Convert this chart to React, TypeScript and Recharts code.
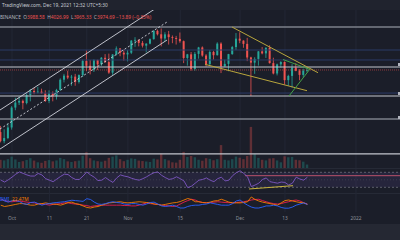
import React from 'react';
import { ComposedChart, Bar, Line, XAxis, YAxis, ReferenceLine, ReferenceArea, CartesianGrid } from 'recharts';

// day index, 0 = Oct 1 2021
const days = [
  -3, -2, -1, 0, 1, 2, 3, 4, 5, 6,
  7, 8, 9, 10, 11, 12, 13, 14, 15, 16,
  17, 18, 19, 20, 21, 22, 23, 24, 25, 26,
  27, 28, 29, 30, 31, 32, 33, 34, 35, 36,
  37, 38, 39, 40, 41, 42, 43, 44, 45, 46,
  47, 48, 49, 50, 51, 52, 53, 54, 55, 56,
  57, 58, 59, 60, 61, 62, 63, 64, 65, 66,
  67, 68, 69, 70, 71, 72, 73, 74, 75, 76,
  77, 78, 79,
];

const opens = [
  2935, 2807, 2850, 3001, 3308, 3390, 3418, 3381, 3518, 3588,
  3563, 3576, 3546, 3415, 3545, 3493, 3606, 3790, 3866, 3830,
  3847, 3748, 3877, 4155, 4057, 3972, 4170, 4085, 4218, 4131,
  3924, 4287, 4415, 4324, 4288, 4324, 4587, 4604, 4537, 4476,
  4520, 4620, 4812, 4732, 4635, 4730, 4667, 4647, 4625, 4575,
  4215, 4290, 3993, 4300, 4437, 4265, 4090, 4340, 4272, 4521,
  4045, 4095, 4295, 4445, 4632, 4587, 4515, 4225, 4120, 4195,
  4353, 4310, 4430, 4110, 3907, 4085, 4133, 3782, 3861, 4020,
  3960, 3880, 3960,
];

const highs = [
  3025, 2975, 3060, 3330, 3470, 3490, 3440, 3550, 3620, 3640,
  3660, 3628, 3600, 3598, 3580, 3625, 3815, 3900, 3960, 3880,
  3900, 3890, 4180, 4375, 4170, 4190, 4180, 4235, 4295, 4305,
  4295, 4460, 4420, 4395, 4380, 4600, 4665, 4611, 4580, 4529,
  4638, 4825, 4842, 4868, 4780, 4810, 4705, 4695, 4773, 4590,
  4300, 4340, 4340, 4450, 4460, 4295, 4380, 4365, 4550, 4550,
  4180, 4300, 4470, 4760, 4778, 4595, 4650, 4240, 4230, 4360,
  4445, 4440, 4485, 4220, 4100, 4150, 4145, 3883, 4090, 4110,
  3990, 4000, 4027,
];

const lows = [
  2790, 2778, 2835, 2970, 3265, 3350, 3280, 3360, 3410, 3530,
  3545, 3540, 3400, 3380, 3410, 3440, 3590, 3740, 3800, 3680,
  3680, 3720, 3840, 3950, 3890, 3935, 3975, 4055, 4115, 3900,
  3880, 4267, 4250, 4160, 4145, 4295, 4450, 4460, 4436, 4330,
  4505, 4610, 4705, 4460, 4573, 4500, 4530, 4500, 4540, 4110,
  4060, 3960, 3960, 4200, 4240, 4040, 4060, 4180, 4265, 3915,
  4040, 3950, 4280, 4380, 4530, 4430, 4150, 3500, 3900, 4060,
  4290, 4215, 4100, 3890, 3870, 4020, 3700, 3680, 3645, 3950,
  3780, 3830, 3930,
];

const closes = [
  2807, 2850, 3001, 3308, 3390, 3418, 3381, 3518, 3588, 3563,
  3576, 3546, 3415, 3545, 3493, 3606, 3790, 3866, 3830, 3847,
  3748, 3877, 4155, 4057, 3972, 4170, 4085, 4218, 4131, 3924,
  4287, 4415, 4324, 4288, 4324, 4587, 4604, 4537, 4476, 4520,
  4620, 4812, 4732, 4635, 4730, 4667, 4647, 4625, 4575, 4215,
  4290, 3993, 4300, 4437, 4265, 4090, 4340, 4272, 4521, 4045,
  4095, 4295, 4445, 4632, 4587, 4515, 4225, 4120, 4195, 4353,
  4310, 4430, 4110, 3907, 4085, 4133, 3782, 3861, 4020, 3960,
  3880, 3960, 3975,
];

const volumes = [
  520, 480, 560, 720, 540, 380, 430, 510, 620, 470,
  360, 330, 450, 500, 420, 480, 640, 560, 420, 380,
  430, 470, 780, 1000, 620, 480, 430, 400, 460, 640,
  720, 800, 560, 430, 520, 610, 580, 470, 440, 410,
  380, 590, 540, 900, 560, 480, 360, 340, 520, 1020,
  700, 760, 680, 520, 460, 620, 580, 490, 560, 1450,
  520, 480, 560, 720, 650, 560, 760, 2600, 880, 640,
  520, 480, 600, 620, 480, 360, 740, 680, 700, 520,
  490, 400, 220,
];

const rsi = [
  49.5, 44, 50, 57, 65, 71, 67, 63, 60, 60,
  67, 63, 53, 49, 45, 52, 59, 65, 64, 56,
  51, 51, 60, 71, 63, 57, 48, 49, 56, 49,
  43, 55, 63, 60, 58, 54, 51, 49, 53, 58,
  64, 69, 71, 62, 56, 51, 53, 58, 53, 47,
  29, 33, 41, 49, 51, 55, 49, 45, 53, 57,
  47, 49, 61, 69, 74, 67, 58, 32, 36, 41,
  51, 55, 45, 43, 41, 44, 43, 36, 41, 57,
  52, 49, 57,
];

const plusDI = [
  35.5, 29, 26, 30, 30, 27.5, 22, 20, 25, 26,
  22, 18, 21, 22, 24, 25, 26, 27, 29, 31,
  30, 29, 28, 35, 33, 26, 21, 20, 22, 25,
  27, 25, 24, 21, 20, 22, 22, 20, 18, 21,
  25, 26, 21, 16, 14.5, 16, 18, 14.5, 10.5, 10.5,
  14.5, 17, 18, 18, 20, 21, 24, 22, 20, 18,
  18, 18, 22, 29, 31.5, 24, 18, 13, 10.5, 10.5,
  13, 16, 16, 18, 16, 12, 10, 10, 13, 18,
  21, 24, 20,
];

const minusDI = [
  18, 14.5, 16, 18, 20, 22, 22, 20, 18, 18,
  21, 22, 24, 22, 21, 20, 18, 21, 25, 26,
  22, 20, 16, 12, 10.5, 13, 14.5, 18, 21, 24,
  25, 26, 27, 25, 24, 25, 26, 27, 26, 25,
  24, 21, 20, 18, 20, 22, 24, 25, 27.5, 31.5,
  35.5, 33, 27, 27, 25, 24, 26, 29, 30, 33.5,
  30, 26, 24, 24, 24, 25, 27, 39.5, 33, 29,
  26, 24, 22, 20, 18, 24, 30, 31.5, 29, 27,
  25, 24, 20,
];

const adx = [
  33, 30, 27.5, 27, 28, 29, 27.5, 26, 25, 24,
  22, 21, 20, 18, 20, 21, 22, 24, 24, 22,
  21, 20, 18, 17, 14.5, 16, 17, 18, 18, 18,
  18, 18, 18, 17, 17, 16, 16, 18, 21, 24,
  22, 21, 20, 18, 17, 16, 14.5, 16, 21, 26,
  30, 33.5, 31.5, 27, 25, 24.5, 25, 26, 27, 26,
  25, 24.5, 24.5, 25, 26, 27, 29, 31.5, 33, 33.5,
  30, 27, 24, 22, 21, 22, 25, 27, 30, 31.5,
  29, 24.5, 21,
];

const tickDays = [0, 10, 20, 31, 45, 61, 73, 92];
const tickLabels = ['Oct', '11', '21', 'Nov', '15', 'Dec', '13', '2022'];

// horizontal levels drawn on the price pane
const levelsWhite = [4033, 3500, 2637];
const levelsGrey = [4904, 3128];
const levelsBlue = [4382, 4174, 3551];
const lastPrice = 3974.69;

// trend line drawings, [day, price]
const channelUpper = [[-3.21, 3269], [41.46, 5567]];
const channelMid = [[-3.21, 2979], [41.46, 5024]];
const channelLower = [[-3.21, 2701], [41.46, 4601]];
const wedgeUpper = [[58.84, 4903], [81.84, 3922]];
const wedgeLower = [[51.62, 4086], [78.9, 3592]];
const flagTop = [[72.48, 4183], [79.7, 3984]];
const flagRise = [[74.08, 3500], [79.7, 3993]];

// drawings on the RSI pane, [day, rsi]
const rsiLevel = [[62.3, 61], [103.77, 61]];
const rsiDivergence = [[63.4, 25.5], [75.15, 34.3]];

const rows = days.map((d, i) => ({
  d,
  open: opens[i],
  high: highs[i],
  low: lows[i],
  close: closes[i],
  volume: volumes[i],
  rsi: rsi[i],
  plusDI: plusDI[i],
  minusDI: minusDI[i],
  adx: adx[i],
}));

const X_DOMAIN: [number, number] = [-3.21, 103.77];
const UP = '#26a69a';
const DOWN = '#ef5350';
const BG = '#1b1e29';
const GRID = '#232735';

const Candle = (props: any) => {
  const { x, y, width, height, payload } = props;
  if (x == null || y == null || !payload) return <g />;
  const top = Math.min(y, y + height);
  const bot = Math.max(y, y + height);
  const lh = Math.log(payload.high);
  const ll = Math.log(payload.low);
  const toPx = (p: number) => top + ((bot - top) * (lh - Math.log(p))) / (lh - ll);
  const color = payload.close >= payload.open ? UP : DOWN;
  const cx = x + width / 2;
  const yO = toPx(payload.open);
  const yC = toPx(payload.close);
  return (
    <g>
      <line x1={cx} x2={cx} y1={top} y2={bot} stroke={color} strokeWidth={0.8} />
      <rect x={cx - 1} y={Math.min(yO, yC)} width={2} height={Math.max(0.8, Math.abs(yO - yC))} fill={color} />
    </g>
  );
};

const VolumeBar = (props: any) => {
  const { x, y, width, height, payload } = props;
  if (x == null || !payload) return <g />;
  const color = payload.close >= payload.open ? UP : DOWN;
  return <rect x={x + width / 2 - 1.2} y={y} width={2.4} height={Math.max(0, height)} fill={color} fillOpacity={0.32} />;
};

const seg = (pts: number[][]) => pts.map(([x, y]) => ({ x, y }));

const small: React.CSSProperties = { position: 'absolute', whiteSpace: 'nowrap', fontSize: 4.8, lineHeight: '6px' };

export default function App() {
  return (
    <div
      style={{
        position: 'absolute',
        left: 0,
        top: 0,
        width: 400,
        height: 240,
        overflow: 'hidden',
        background: BG,
        fontFamily: '"Noto Sans", Roboto, sans-serif',
      }}
    >
      {/* header strip */}
      <div style={{ position: 'absolute', left: 0, top: 0, width: 400, height: 10, background: '#20232e' }} />
      <div style={{ ...small, left: 2, top: 2, color: '#c9ccd4' }}>TradingView.com, Dec 19, 2021 12:32 UTC+5:30</div>

      {/* price pane with volume overlay */}
      <div style={{ position: 'absolute', left: 0, top: 10 }}>
        <ComposedChart width={400} height={158} data={rows} margin={{ top: 0, right: 0, bottom: 0, left: 0 }}>
          <CartesianGrid xAxisId="p" yAxisId="price" horizontal={false} verticalValues={tickDays} stroke={GRID} />
          <XAxis xAxisId="p" type="number" dataKey="d" domain={X_DOMAIN} allowDataOverflow hide />
          <XAxis xAxisId="v" type="number" dataKey="d" domain={X_DOMAIN} allowDataOverflow hide />
          <YAxis yAxisId="price" scale="log" domain={[2462.3, 5327.6]} allowDataOverflow hide />
          <YAxis yAxisId="vol" domain={[0, 10000]} allowDataOverflow hide />
          <Bar xAxisId="v" yAxisId="vol" dataKey="volume" barSize={3} shape={VolumeBar} isAnimationActive={false} />
          {levelsBlue.map((p) => (
            <ReferenceLine key={'b' + p} xAxisId="p" yAxisId="price" y={p} stroke="#2b3a66" strokeWidth={1} />
          ))}
          {levelsGrey.map((p) => (
            <ReferenceLine key={'g' + p} xAxisId="p" yAxisId="price" y={p} stroke="#7d808a" strokeWidth={1.4} />
          ))}
          {levelsWhite.map((p) => (
            <ReferenceLine key={'w' + p} xAxisId="p" yAxisId="price" y={p} stroke="#c3c6ce" strokeWidth={1.2} />
          ))}
          <ReferenceLine xAxisId="p" yAxisId="price" y={lastPrice} stroke="#ef5350" strokeOpacity={0.55} strokeDasharray="1 1" />
          <Bar xAxisId="p" yAxisId="price" dataKey={(r: any) => [r.low, r.high]} barSize={3} shape={Candle} isAnimationActive={false} />
          <ReferenceLine xAxisId="p" yAxisId="price" segment={seg(channelUpper)} ifOverflow="hidden" stroke="#d1d4dc" strokeWidth={0.9} />
          <ReferenceLine xAxisId="p" yAxisId="price" segment={seg(channelMid)} ifOverflow="hidden" stroke="#d1d4dc" strokeWidth={0.9} strokeDasharray="2 2" />
          <ReferenceLine xAxisId="p" yAxisId="price" segment={seg(channelLower)} ifOverflow="hidden" stroke="#d1d4dc" strokeWidth={0.9} />
          <ReferenceLine xAxisId="p" yAxisId="price" segment={seg(wedgeUpper)} ifOverflow="hidden" stroke="#b8a53c" strokeWidth={1} />
          <ReferenceLine xAxisId="p" yAxisId="price" segment={seg(wedgeLower)} ifOverflow="hidden" stroke="#b8a53c" strokeWidth={1} />
          <ReferenceLine xAxisId="p" yAxisId="price" segment={seg(flagTop)} ifOverflow="hidden" stroke="#43a047" strokeWidth={1} />
          <ReferenceLine xAxisId="p" yAxisId="price" segment={seg(flagRise)} ifOverflow="hidden" stroke="#43a047" strokeWidth={1} />
        </ComposedChart>
      </div>

      {/* legend of the price pane */}
      <div style={{ ...small, left: 0, top: 14, color: '#b2b5be' }}>
        BINANCE&nbsp; O<span style={{ color: DOWN }}>3988.58</span>&nbsp; H<span style={{ color: DOWN }}>4026.99</span>&nbsp; L
        <span style={{ color: DOWN }}>3965.33</span>&nbsp; C<span style={{ color: DOWN }}>3974.69</span>&nbsp;
        <span style={{ color: DOWN }}>−13.89 (−0.35%)</span>
      </div>

      {/* cut-off price scale labels */}
      {[63, 92, 116].map((t) => (
        <div key={t} style={{ position: 'absolute', left: 398, top: t, width: 2, height: 3, background: '#b2b5be' }} />
      ))}

      {/* pane separators */}
      <div style={{ position: 'absolute', left: 0, top: 168, width: 400, height: 1, background: '#262a36' }} />
      <div style={{ position: 'absolute', left: 0, top: 193, width: 400, height: 1, background: '#262a36' }} />

      {/* RSI pane */}
      <div style={{ position: 'absolute', left: 0, top: 169 }}>
        <ComposedChart width={400} height={24} data={rows} margin={{ top: 0, right: 0, bottom: 0, left: 0 }}>
          <CartesianGrid horizontal={false} verticalValues={tickDays} stroke={GRID} />
          <XAxis type="number" dataKey="d" domain={X_DOMAIN} allowDataOverflow hide />
          <YAxis domain={[14.8, 78.8]} allowDataOverflow hide />
          <ReferenceArea y1={30} y2={70} fill="#7e57c2" fillOpacity={0.12} stroke="none" />
          <ReferenceLine y={70} stroke="#6d6f7a" strokeDasharray="2 2" strokeWidth={0.8} />
          <ReferenceLine y={50} stroke="#4a4d58" strokeDasharray="1 2" strokeWidth={0.6} />
          <ReferenceLine y={30} stroke="#6d6f7a" strokeDasharray="2 2" strokeWidth={0.8} />
          <ReferenceLine segment={seg(rsiLevel)} ifOverflow="hidden" stroke="#c9566f" strokeWidth={0.9} />
          <Line dataKey="rsi" type="linear" stroke="#7e57c2" strokeWidth={0.9} dot={false} isAnimationActive={false} />
          <ReferenceLine segment={seg(rsiDivergence)} ifOverflow="hidden" stroke="#c7b33f" strokeWidth={1} />
        </ComposedChart>
      </div>

      {/* DMI pane with time axis */}
      <div style={{ position: 'absolute', left: 0, top: 193 }}>
        <ComposedChart width={400} height={31} data={rows} margin={{ top: 0, right: 0, bottom: 0, left: 0 }}>
          <CartesianGrid horizontal={false} verticalValues={tickDays} stroke={GRID} />
          <XAxis
            type="number"
            dataKey="d"
            domain={X_DOMAIN}
            allowDataOverflow
            ticks={tickDays}
            tickFormatter={(v: number) => tickLabels[tickDays.indexOf(v)] ?? ''}
            axisLine={false}
            tickLine={false}
            tickSize={0}
            tickMargin={5}
            height={12}
            interval={0}
            tick={{ fill: '#8f929b', fontSize: 4.8 }}
          />
          <YAxis domain={[0, 50]} allowDataOverflow hide />
          <Line dataKey="adx" type="linear" stroke="#e91e50" strokeWidth={0.9} dot={false} isAnimationActive={false} />
          <Line dataKey="minusDI" type="linear" stroke="#f57c00" strokeWidth={0.9} dot={false} isAnimationActive={false} />
          <Line dataKey="plusDI" type="linear" stroke="#2962ff" strokeWidth={0.9} dot={false} isAnimationActive={false} />
        </ComposedChart>
      </div>
      <div style={{ ...small, left: 0, top: 196, color: '#2962ff' }}>
        DMI <span style={{ color: '#f57c00' }}>&nbsp;22.47M</span>
      </div>

      {/* bottom toolbar strip */}
      <div style={{ position: 'absolute', left: 0, top: 224, width: 400, height: 16, background: '#252833' }} />
    </div>
  );
}
